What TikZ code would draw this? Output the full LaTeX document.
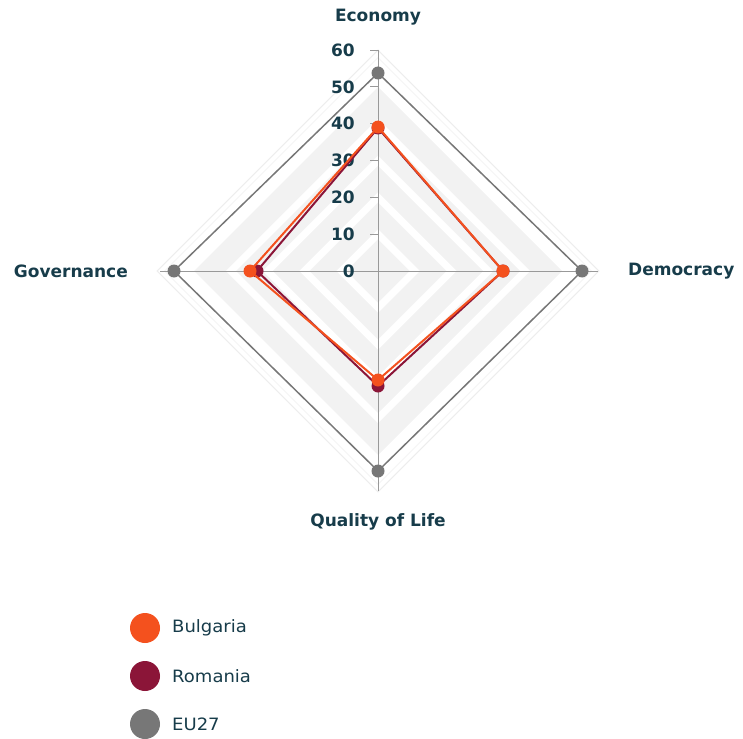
\documentclass[tikz,border=0pt]{standalone}
\usepackage{fontspec}
\newfontfamily\labfont{DejaVu Sans Bold}
\newfontfamily\legfont[FakeStretch=1.06]{DejaVu Sans}
\definecolor{txt}{HTML}{173C4A}
\definecolor{bul}{HTML}{F4511E}
\definecolor{rom}{HTML}{8B1538}
\definecolor{eu}{HTML}{777777}
\definecolor{band}{HTML}{F2F2F2}
\definecolor{axisc}{HTML}{999999}
\begin{document}
\begin{tikzpicture}[x=1pt,y=-1pt,
  cat/.style={font=\labfont\fontsize{17}{20}\selectfont, text=txt, inner sep=0pt},
  num/.style={font=\labfont\fontsize{17}{20}\selectfont, text=txt, inner sep=0pt, anchor=east},
  leg/.style={font=\legfont\fontsize{17}{20}\selectfont, text=txt, inner sep=0pt, anchor=west},
  series/.style={line width=2pt, line join=round},
  dot/.style={circle, fill=#1, inner sep=0pt, minimum size=13pt},
  legdot/.style={circle, fill=#1, inner sep=0pt, minimum size=30pt}]
\useasboundingbox (0,0) rectangle (743,738);
\def\u{3.68}
% bands
\fill[band] (378,{271-50*\u}) -- ({378+50*\u},271) -- (378,{271+50*\u}) -- ({378-50*\u},271) -- cycle;
\foreach \v in {10,20,30,40}{
  \draw[white, line width=7pt] (378,{271-\v*\u}) -- ({378+\v*\u},271) -- (378,{271+\v*\u}) -- ({378-\v*\u},271) -- cycle;
}
\draw[white!93!black, line width=1pt] (378,{271-60*\u}) -- ({378+60*\u},271) -- (378,{271+60*\u}) -- ({378-60*\u},271) -- cycle;
\draw[white!96!black, line width=1pt] (378,{271-58*\u}) -- ({378+58*\u},271) -- (378,{271+58*\u}) -- ({378-58*\u},271) -- cycle;
% axes
\coordinate (top) at (378,50);
\coordinate (bot) at (378,491);
\coordinate (lft) at (160,271);
\coordinate (rgt) at (598,271);
\draw[axisc, line width=1pt] (top) -- (bot);
\draw[axisc, line width=1pt] (lft) -- (rgt);
\foreach \v in {0,10,...,60}{
  \coordinate (t\v) at (370,{271-\v*\u});
  \draw[axisc, line width=1pt] (t\v) -- ++(8,0);
  \node[num] (n\v) at (355,{271-\v*\u}) {\v};
}
% categories
\node[cat] (econ) at (378,17) {Economy};
\node[cat, anchor=west] (demo) at (628,271) {Democracy};
\node[cat, anchor=east] (gov) at (128,271) {Governance};
\node[cat] (qol) at (378,522) {Quality of Life};
% EU27
\coordinate (e1) at (378,73);
\coordinate (e2) at (582,271);
\coordinate (e3) at (378,471);
\coordinate (e4) at (174,271);
\draw[eu, line width=1.5pt, line join=round] (e1) -- (e2) -- (e3) -- (e4) -- cycle;
\foreach \p in {e1,e2,e3,e4} \node[dot=eu] at (\p) {};
% Romania
\coordinate (r1) at (378,128);
\coordinate (r2) at (503,271);
\coordinate (r3) at (378,386);
\coordinate (r4) at (257,271);
\draw[series, rom] (r1) -- (r2) -- (r3) -- (r4) -- cycle;
\foreach \p in {r1,r2,r3,r4} \node[dot=rom] at (\p) {};
% Bulgaria
\coordinate (b1) at (378,127);
\coordinate (b2) at (503,271);
\coordinate (b3) at (378,380);
\coordinate (b4) at (250,271);
\draw[series, bul] (b1) -- (b2) -- (b3) -- (b4) -- cycle;
\foreach \p in {b1,b2,b3,b4} \node[dot=bul] at (\p) {};
% legend
\node[legdot=bul] (lb) at (145,628) {};
\node[leg] (lbt) at (172,628) {Bulgaria};
\node[legdot=rom] (lr) at (145,676) {};
\node[leg] (lrt) at (172,676) {Romania};
\node[legdot=eu] (le) at (145,724) {};
\node[leg] (let) at (172,724) {EU27};
\end{tikzpicture}
\end{document}
